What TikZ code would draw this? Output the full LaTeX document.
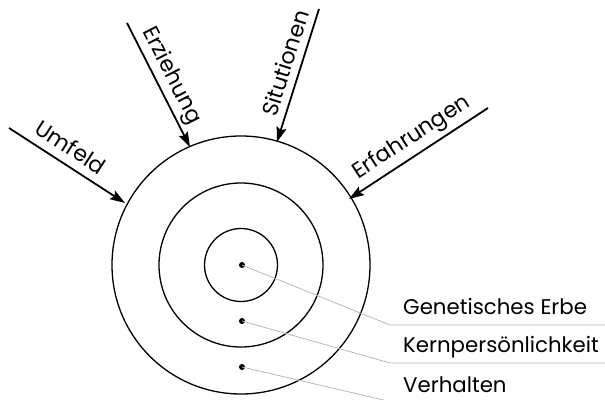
\documentclass[tikz,border=0pt]{standalone}
\usepackage{fontspec}
\setmainfont{Poppins}
\usetikzlibrary{arrows.meta}
\begin{document}
\begin{tikzpicture}[x=1pt,y=-1pt,
  ring/.style={draw=black,line width=1.3pt},
  inarrow/.style={line width=1.8pt,-{Stealth[length=15pt,width=10pt,inset=2.5pt]}},
  influence/.style={inner sep=0pt,font=\fontsize{22}{26}\selectfont},
  layerlabel/.style={inner sep=0pt,anchor=base west,font=\fontsize{21.3}{25}\selectfont},
  leader/.style={draw=black!28,line width=0.8pt},
  dotmark/.style={circle,fill=black,inner sep=0pt,minimum size=6pt}]
\useasboundingbox (0,0) rectangle (605,399);
% circles
\node[ring,circle,minimum size=258pt,inner sep=0pt] (outer) at (241,265) {};
\node[ring,circle,minimum size=164pt,inner sep=0pt] (middle) at (241,265) {};
\node[ring,circle,minimum size=73pt,inner sep=0pt] (inner) at (241,265) {};
% dots
\node[dotmark] (d1) at (242,265) {};
\node[dotmark] (d2) at (242,321) {};
\node[dotmark] (d3) at (242,367) {};
% arrows
\coordinate (s1) at (9,128);   \coordinate (t1) at (125,203);
\coordinate (s2) at (127,23);  \coordinate (t2) at (190,147);
\coordinate (s3) at (319,9);   \coordinate (t3) at (277,142);
\coordinate (s4) at (488,108); \coordinate (t4) at (349,199);
\draw[inarrow] (s1) -- (t1);
\draw[inarrow] (s2) -- (t2);
\draw[inarrow] (s3) -- (t3);
\draw[inarrow] (s4) -- (t4);
\node[influence,rotate=-33] (l1) at (71,147) {Umfeld};
\node[influence,rotate=-63] (l2) at (171,76) {Erziehung};
\node[influence,rotate=72.5] (l3) at (285,63) {Situtionen};
\node[influence,rotate=33] (l4) at (412,138) {Erfahrungen};
% layer labels
\node[layerlabel] (g) at (403,314) {Genetisches Erbe};
\node[layerlabel] (k) at (403,352) {Kernpersönlichkeit};
\node[layerlabel] (v) at (403,392) {Verhalten};
\coordinate (b1) at (390,325); \coordinate (e1) at (605,325);
\coordinate (b2) at (390,363); \coordinate (e2) at (605,363);
\coordinate (b3) at (390,401.5); \coordinate (e3) at (605,401.5);
\draw[leader] (d1.center) -- (b1) -- (e1);
\draw[leader] (d2.center) -- (b2) -- (e2);
\draw[leader] (d3.center) -- (b3) -- (e3);
\end{tikzpicture}
\end{document}
